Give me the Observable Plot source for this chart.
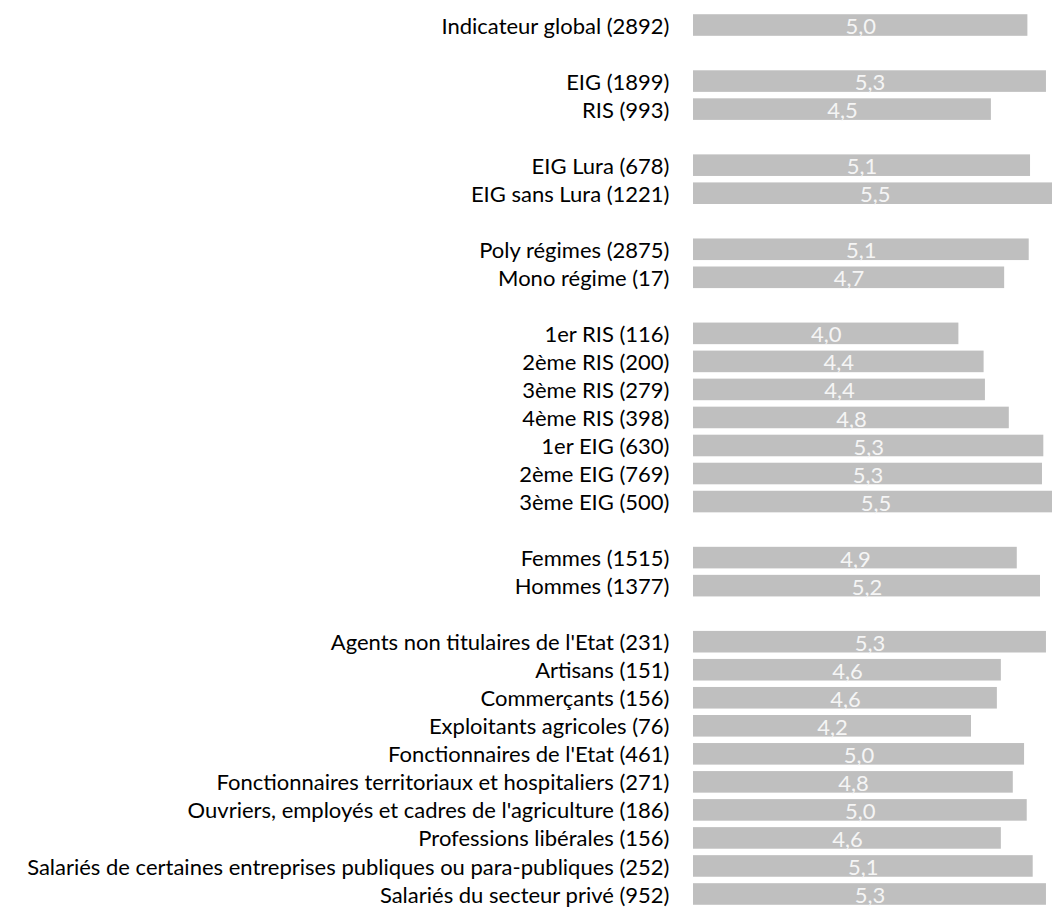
<!DOCTYPE html>
<html>
<head>
<meta charset="utf-8">
<script src="https://cdn.jsdelivr.net/npm/d3@7"></script>
<script src="https://cdn.jsdelivr.net/npm/@observablehq/plot@0.6"></script>
<style>
  html, body { margin: 0; padding: 0; background: #fff; overflow: hidden; }
  #chart { width: 1052px; height: 908px; overflow: hidden; }
</style>
</head>
<body>
<div id="chart"></div>
<script>
const categories = [
  "Indicateur global (2892)",
  "EIG (1899)", "RIS (993)",
  "EIG Lura (678)", "EIG sans Lura (1221)",
  "Poly régimes (2875)", "Mono régime (17)",
  "1er RIS (116)", "2ème RIS (200)", "3ème RIS (279)", "4ème RIS (398)",
  "1er EIG (630)", "2ème EIG (769)", "3ème EIG (500)",
  "Femmes (1515)", "Hommes (1377)",
  "Agents non titulaires de l'Etat (231)", "Artisans (151)", "Commerçants (156)",
  "Exploitants agricoles (76)", "Fonctionnaires de l'Etat (461)",
  "Fonctionnaires territoriaux et hospitaliers (271)",
  "Ouvriers, employés et cadres de l'agriculture (186)",
  "Professions libérales (156)",
  "Salariés de certaines entreprises publiques ou para-publiques (252)",
  "Salariés du secteur privé (952)"
];
const values = [
  5.04,
  5.32, 4.49,
  5.08, 5.48,
  5.06, 4.69,
  4.00, 4.38, 4.40, 4.76,
  5.28, 5.26, 5.50,
  4.88, 5.23,
  5.32, 4.64, 4.58,
  4.19, 4.99,
  4.82,
  5.03,
  4.64,
  5.12,
  5.32
];
const groupSizes = [1, 2, 2, 2, 7, 2, 10];

// y domain with blank spacer rows between groups
const domain = [];
let k = 0;
groupSizes.forEach((n, gi) => {
  if (gi > 0) domain.push(" ".repeat(gi));
  for (let i = 0; i < n; i++) domain.push(categories[k++]);
});

const data = categories.map((c, i) => ({category: c, value: values[i]}));
const fmt = v => (Math.round(v * 10) / 10).toFixed(1).replace(".", ",");

const chart = Plot.plot({
  width: 1052,
  height: 908,
  marginLeft: 693,
  marginRight: 0,
  marginTop: 11,
  marginBottom: 0,
  style: {fontFamily: "Lato, 'Open Sans', sans-serif", background: "#fff", color: "#000"},
  x: {domain: [0, 5.411], axis: null},
  y: {domain, paddingInner: 0.23, paddingOuter: 0.115, round: false, axis: null},
  marks: [
    Plot.barX(data, {x: "value", y: "category", fill: "#bfbfbf"}),
    Plot.text(data, {x: d => d.value / 2, y: "category", text: d => fmt(d.value),
      fill: "#f5f5f5", fontSize: 22, dy: 1.5}),
    Plot.axisY({tickSize: 0, tickPadding: 24, fontSize: 22, dy: 1, fill: "#000", label: null})
  ]
});
document.getElementById("chart").appendChild(chart);
</script>
</body>
</html>
